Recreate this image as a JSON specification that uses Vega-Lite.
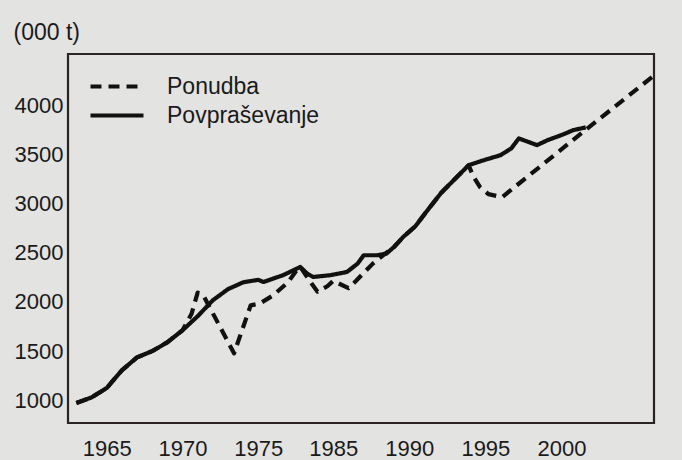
{
  "$schema": "https://vega.github.io/schema/vega-lite/v6.json",
  "width": 586,
  "height": 369,
  "autosize": {"type": "none"},
  "padding": {"left": 68, "top": 54, "right": 28, "bottom": 37},
  "background": "#e3e3e1",
  "config": {
    "view": {"stroke": "#2a2424", "strokeWidth": 2.2},
    "font": "Liberation Sans"
  },
  "data": {
    "values": [
      {"year": 1963, "value": 973, "series": "Povpraševanje"},
      {"year": 1964, "value": 1030, "series": "Povpraševanje"},
      {"year": 1965, "value": 1125, "series": "Povpraševanje"},
      {"year": 1966, "value": 1305, "series": "Povpraševanje"},
      {"year": 1967, "value": 1437, "series": "Povpraševanje"},
      {"year": 1968, "value": 1500, "series": "Povpraševanje"},
      {"year": 1969, "value": 1590, "series": "Povpraševanje"},
      {"year": 1970, "value": 1712, "series": "Povpraševanje"},
      {"year": 1971, "value": 1855, "series": "Povpraševanje"},
      {"year": 1972, "value": 2017, "series": "Povpraševanje"},
      {"year": 1973, "value": 2130, "series": "Povpraševanje"},
      {"year": 1974, "value": 2200, "series": "Povpraševanje"},
      {"year": 1975, "value": 2225, "series": "Povpraševanje"},
      {"year": 1975.7, "value": 2203, "series": "Povpraševanje"},
      {"year": 1977, "value": 2238, "series": "Povpraševanje"},
      {"year": 1978.3, "value": 2272, "series": "Povpraševanje"},
      {"year": 1979.7, "value": 2323, "series": "Povpraševanje"},
      {"year": 1980.6, "value": 2356, "series": "Povpraševanje"},
      {"year": 1981.5, "value": 2289, "series": "Povpraševanje"},
      {"year": 1982.3, "value": 2254, "series": "Povpraševanje"},
      {"year": 1984.6, "value": 2272, "series": "Povpraševanje"},
      {"year": 1985.9, "value": 2305, "series": "Povpraševanje"},
      {"year": 1986.6, "value": 2390, "series": "Povpraševanje"},
      {"year": 1987, "value": 2475, "series": "Povpraševanje"},
      {"year": 1987.9, "value": 2475, "series": "Povpraševanje"},
      {"year": 1988.5, "value": 2492, "series": "Povpraševanje"},
      {"year": 1989, "value": 2560, "series": "Povpraševanje"},
      {"year": 1989.6, "value": 2661, "series": "Povpraševanje"},
      {"year": 1990.4, "value": 2770, "series": "Povpraševanje"},
      {"year": 1991.2, "value": 2933, "series": "Povpraševanje"},
      {"year": 1992.1, "value": 3110, "series": "Povpraševanje"},
      {"year": 1993.9, "value": 3390, "series": "Povpraševanje"},
      {"year": 1994.9, "value": 3441, "series": "Povpraševanje"},
      {"year": 1996, "value": 3492, "series": "Povpraševanje"},
      {"year": 1996.7, "value": 3560, "series": "Povpraševanje"},
      {"year": 1997.2, "value": 3662, "series": "Povpraševanje"},
      {"year": 1997.8, "value": 3628, "series": "Povpraševanje"},
      {"year": 1998.4, "value": 3594, "series": "Povpraševanje"},
      {"year": 1999.1, "value": 3645, "series": "Povpraševanje"},
      {"year": 2000, "value": 3696, "series": "Povpraševanje"},
      {"year": 2000.8, "value": 3747, "series": "Povpraševanje"},
      {"year": 2001.6, "value": 3774, "series": "Povpraševanje"},
      {"year": 1963, "value": 973, "series": "Ponudba"},
      {"year": 1964, "value": 1030, "series": "Ponudba"},
      {"year": 1965, "value": 1125, "series": "Ponudba"},
      {"year": 1966, "value": 1305, "series": "Ponudba"},
      {"year": 1967, "value": 1437, "series": "Ponudba"},
      {"year": 1968, "value": 1500, "series": "Ponudba"},
      {"year": 1969, "value": 1590, "series": "Ponudba"},
      {"year": 1970, "value": 1712, "series": "Ponudba"},
      {"year": 1970.6, "value": 1880, "series": "Ponudba"},
      {"year": 1971, "value": 2095, "series": "Ponudba"},
      {"year": 1971.4, "value": 2060, "series": "Ponudba"},
      {"year": 1973.4, "value": 1478, "series": "Ponudba"},
      {"year": 1974.5, "value": 1966, "series": "Ponudba"},
      {"year": 1975.2, "value": 1984, "series": "Ponudba"},
      {"year": 1977, "value": 2068, "series": "Ponudba"},
      {"year": 1979, "value": 2203, "series": "Ponudba"},
      {"year": 1980.1, "value": 2322, "series": "Ponudba"},
      {"year": 1980.6, "value": 2356, "series": "Ponudba"},
      {"year": 1982.1, "value": 2187, "series": "Ponudba"},
      {"year": 1982.9, "value": 2105, "series": "Ponudba"},
      {"year": 1984.2, "value": 2160, "series": "Ponudba"},
      {"year": 1985, "value": 2215, "series": "Ponudba"},
      {"year": 1986, "value": 2140, "series": "Ponudba"},
      {"year": 1986.5, "value": 2215, "series": "Ponudba"},
      {"year": 1987.6, "value": 2390, "series": "Ponudba"},
      {"year": 1988.7, "value": 2526, "series": "Ponudba"},
      {"year": 1989, "value": 2560, "series": "Ponudba"},
      {"year": 1989.6, "value": 2661, "series": "Ponudba"},
      {"year": 1990.4, "value": 2770, "series": "Ponudba"},
      {"year": 1991.2, "value": 2933, "series": "Ponudba"},
      {"year": 1992.1, "value": 3110, "series": "Ponudba"},
      {"year": 1993.9, "value": 3390, "series": "Ponudba"},
      {"year": 1994.2, "value": 3279, "series": "Ponudba"},
      {"year": 1994.65, "value": 3167, "series": "Ponudba"},
      {"year": 1995.2, "value": 3096, "series": "Ponudba"},
      {"year": 1996.1, "value": 3065, "series": "Ponudba"},
      {"year": 2001.7, "value": 3762, "series": "Ponudba"},
      {"year": 2006, "value": 4290, "series": "Ponudba"}
    ]
  },
  "mark": {"type": "line", "color": "#111111", "strokeWidth": 4.2, "strokeJoin": "round", "strokeCap": "butt"},
  "encoding": {
    "x": {
      "field": "year",
      "type": "quantitative",
      "scale": {"domain": [1962.45, 1975, 1985, 2006.09], "range": [0, 190.3, 265.3, 586]},
      "axis": {
        "values": [1965, 1970, 1975, 1985, 1990, 1995, 2000],
        "format": "d",
        "title": null,
        "grid": false,
        "domain": false,
        "ticks": false,
        "tickSize": 0,
        "labelPadding": 15,
        "labelFontSize": 22,
        "labelColor": "#1a1a1a",
        "labelFont": "Liberation Sans"
      }
    },
    "y": {
      "field": "value",
      "type": "quantitative",
      "scale": {"domain": [770, 4520], "nice": false, "zero": false},
      "axis": {
        "values": [1000, 1500, 2000, 2500, 3000, 3500, 4000],
        "format": "d",
        "title": "(000 t)",
        "titleAngle": 0,
        "titleX": -55,
        "titleY": -22,
        "titleAlign": "left",
        "titleBaseline": "middle",
        "titleFontSize": 23,
        "titleFontWeight": "normal",
        "titleColor": "#1a1a1a",
        "titleFont": "Liberation Sans",
        "grid": false,
        "domain": false,
        "ticks": false,
        "tickSize": 0,
        "labelPadding": 5,
        "labelFontSize": 22,
        "labelColor": "#1a1a1a",
        "labelFont": "Liberation Sans"
      }
    },
    "strokeDash": {
      "field": "series",
      "type": "nominal",
      "scale": {"domain": ["Ponudba", "Povpraševanje"], "range": [[11, 7], [1, 0]]},
      "legend": {
        "title": null,
        "orient": "none",
        "legendX": 20,
        "legendY": 18,
        "symbolType": "stroke",
        "symbolSize": 2809,
        "symbolStrokeWidth": 4.2,
        "symbolStrokeColor": "#111111",
        "labelFontSize": 23,
        "labelFont": "Liberation Sans",
        "labelColor": "#1a1a1a",
        "labelOffset": 21,
        "clipHeight": 29,
        "rowPadding": 0
      }
    }
  }
}
